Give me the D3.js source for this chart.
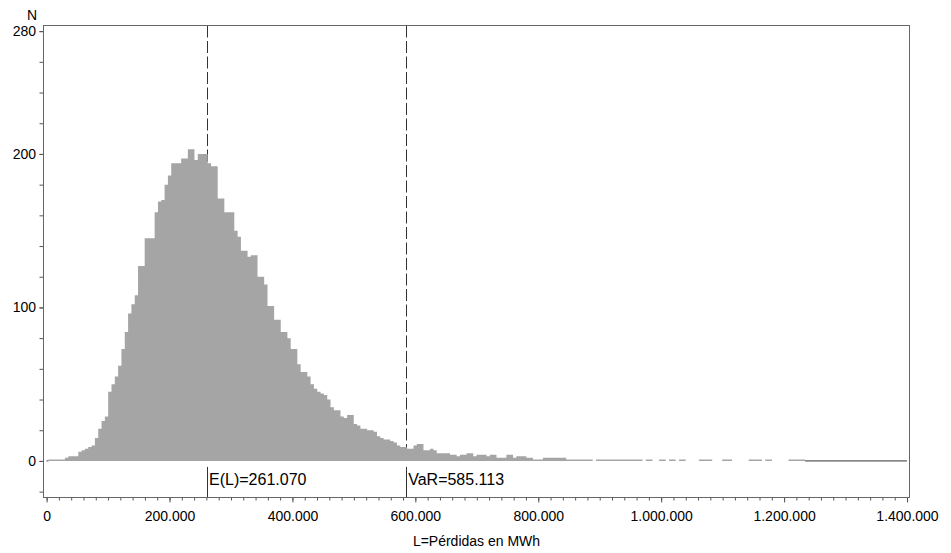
<!DOCTYPE html>
<meta charset="utf-8">
<style>

body {
  margin: 0;
  background: #fff;
}

svg {
  display: block;
}

text {
  font-family: "Liberation Sans", Arial, sans-serif;
  fill: #000;
}

.tick line {
  stroke: #555;
}

.tick text {
  font-size: 14px;
}

</style>
<svg width="951" height="553"></svg>
<script src="https://d3js.org/d3.v7.min.js"></script>
<script>

// histogram bins: first bin starts at binStart, all bins binWidth wide
var binStart = 3000;
var binWidth = 5400;
var counts = [
  1, 1, 1, 1, 1, 2, 3, 3, 3, 6,
  7, 8, 9, 10, 15, 21, 26, 29, 45, 50,
  55, 62, 73, 84, 96, 102, 108, 127, 127, 145,
  145, 145, 162, 169, 170, 180, 186, 194, 194, 194,
  197, 197, 203, 203, 196, 200, 200, 200, 194, 192,
  192, 171, 171, 162, 162, 162, 150, 146, 137, 137,
  133, 134, 134, 120, 120, 115, 101, 101, 92, 92,
  84, 84, 80, 73, 73, 63, 58, 58, 55, 50,
  47, 45, 44, 43, 40, 35, 33, 33, 29, 28,
  30, 30, 24, 23, 21, 21, 20, 20, 19, 16,
  15, 14, 14, 13, 12, 10, 9, 9, 8, 8,
  10, 11, 11, 7, 7, 8, 7, 5, 5, 5,
  5, 4, 4, 3, 4, 4, 5, 5, 3, 4,
  4, 4, 3, 4, 4, 2, 2, 2, 4, 4,
  2, 3, 3, 3, 2, 2, 1, 1, 1, 2,
  2, 2, 2, 2, 2, 2, 1, 1, 1, 1,
  1, 1, 1, 1, 0, 1, 1, 1, 1, 1,
  1, 1, 1, 1, 1, 1, 1, 1, 1, 0,
  1, 1, 0, 0, 1, 1, 0, 1, 1, 0,
  1, 1, 0, 0, 0, 0, 1, 1, 1, 1,
  0, 0, 0, 1, 1, 1, 0, 0, 0, 0,
  0, 1, 1, 1, 1, 0, 1, 1, 0, 0,
  0, 0, 0, 1, 1, 1, 1, 1
];

var xMajor = d3.range(0, 1400001, 200000);
var xMinor = d3.range(0, 1400001, 20000);
var yMajor = [0, 100, 200, 280];
var yMinor = d3.range(-20, 281, 20);

var markers = [
  {name: "E(L)", value: 261070},
  {name: "VaR", value: 585113}
];

var svg = d3.select("svg");

var frame = {left: 43.5, right: 909.5, top: 25.5, bottom: 497.5};

var x = d3.scaleLinear()
    .domain([0, 1400000])
    .range([46.6, 907]);

var y = d3.scaleLinear()
    .domain([-23.5, 284])
    .range([497, 25]);

// spanish style numbers: 1.200.000
var es = d3.formatLocale({decimal: ",", thousands: ".", grouping: [3], currency: ["", ""]});
var fmt = es.format(",");

// snap a vertical line onto a pixel so it stays dark
function crisp(v) { return Math.floor(v) + 0.5; }

/************* DASHED REFERENCE LINES (under the bars) ***************/
svg.append("g")
  .selectAll("line")
  .data(markers)
  .enter().append("line")
    .attr("x1", function(d) { return crisp(x(d.value)); })
    .attr("x2", function(d) { return crisp(x(d.value)); })
    .attr("y1", frame.top)
    .attr("y2", y(0))
    .attr("stroke", "#333")
    .attr("stroke-width", 1)
    .attr("stroke-dasharray", "12,3.5");

/************* HISTOGRAM ***************/
var bins = counts.map(function(c, i) {
  return {x0: binStart + i * binWidth, n: c};
});
bins.push({x0: binStart + counts.length * binWidth, n: 0});

var area = d3.area()
    .curve(d3.curveStepAfter)
    .x(function(d) { return x(d.x0); })
    .y0(y(0))
    .y1(function(d) { return y(d.n); });

svg.append("path")
    .datum(bins)
    .attr("fill", "#a5a5a5")
    .attr("d", area);

// zero line outside the bars
var binEnd = binStart + counts.length * binWidth;
svg.append("g")
  .selectAll("line")
  .data([[0, binStart], [binEnd, 1400000]])
  .enter().append("line")
    .attr("x1", function(d) { return x(d[0]); })
    .attr("x2", function(d) { return x(d[1]); })
    .attr("y1", y(0))
    .attr("y2", y(0))
    .attr("stroke", "#333")
    .attr("stroke-width", 1);

/************* MARKER LABELS (lower band) ***************/
var mk = svg.append("g")
  .selectAll("g")
  .data(markers)
  .enter().append("g");

mk.append("line")
    .attr("x1", function(d) { return crisp(x(d.value)); })
    .attr("x2", function(d) { return crisp(x(d.value)); })
    .attr("y1", y(0) + 6)
    .attr("y2", frame.bottom)
    .attr("stroke", "#333");

mk.append("text")
    .attr("x", function(d) { return x(d.value) + 2; })
    .attr("y", 485)
    .style("font-size", "16px")
    .text(function(d) { return d.name + "=" + fmt(d.value); });

/************* AXES ***************/
svg.append("g")
    .attr("transform", "translate(0," + frame.bottom + ")")
    .call(d3.axisBottom(x).tickValues(xMinor).tickSize(3).tickFormat(""))
    .call(function(g) { g.select(".domain").remove(); });

svg.append("g")
    .attr("transform", "translate(0," + frame.bottom + ")")
    .call(d3.axisBottom(x).tickValues(xMajor).tickSize(5).tickPadding(8.5).tickFormat(fmt))
    .call(function(g) { g.select(".domain").remove(); });

svg.append("g")
    .attr("transform", "translate(" + frame.left + ",0)")
    .call(d3.axisLeft(y).tickValues(yMinor).tickSize(4).tickFormat(""))
    .call(function(g) { g.select(".domain").remove(); });

svg.append("g")
    .attr("transform", "translate(" + frame.left + ",0)")
    .call(d3.axisLeft(y).tickValues(yMajor).tickSize(4).tickPadding(3.5).tickFormat(fmt))
    .call(function(g) { g.select(".domain").remove(); });

svg.selectAll(".tick text").attr("font-family", null);

/************* FRAME + TITLES ***************/
svg.append("rect")
    .attr("x", frame.left)
    .attr("y", frame.top)
    .attr("width", frame.right - frame.left)
    .attr("height", frame.bottom - frame.top)
    .attr("fill", "none")
    .attr("stroke", "#666");

svg.append("text")
    .attr("x", (frame.left + frame.right) / 2)
    .attr("y", 546)
    .attr("text-anchor", "middle")
    .style("font-size", "14px")
    .text("L=Pérdidas en MWh");

svg.append("text")
    .attr("x", 32)
    .attr("y", 19.5)
    .attr("text-anchor", "middle")
    .style("font-size", "14px")
    .text("N");

</script>
